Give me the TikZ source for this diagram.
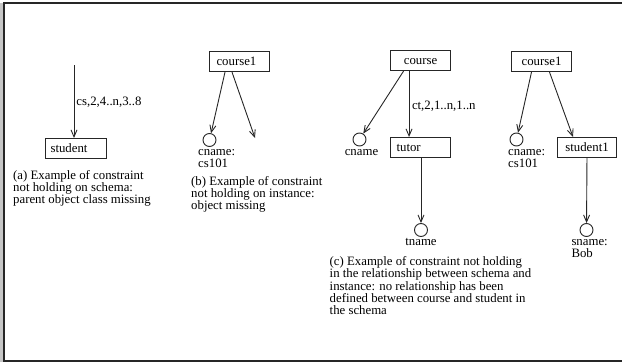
\documentclass[tikz,border=0pt]{standalone}
\usepackage{fontspec}
\setmainfont{Liberation Serif}
\usetikzlibrary{arrows.meta}
\newcommand\figfont{\fontsize{12.8pt}{12.2pt}\selectfont}
\tikzset{
 frame/.style={line width=1.4pt, draw=black!85},
 box/.style={draw=black!85, line width=1.1pt, minimum height=20pt, inner sep=0pt, text height=8.6pt, text depth=0pt, font=\figfont, anchor=north west},
 val/.style={draw=black!85, line width=0.9pt, circle, minimum size=13pt, inner sep=0pt},
 arr/.style={draw=black!85, line width=0.9pt, -{Straight Barb[length=7pt,width=6pt]}},
 txt/.style={font=\figfont, inner sep=0pt, anchor=base west},
}
\begin{document}
\begin{tikzpicture}[x=1pt,y=-1pt]
\useasboundingbox (0,0) rectangle (622,364);
\draw[gray!45, line width=2.5pt] (1.5,3) -- (1.5,362);
\draw[frame] (623,3) -- (4,3) -- (4,361) -- (623,361);

% (a)
\node[box, inner xsep=5pt, text width=51pt, align=left] (student) at (45,138) {student};
\coordinate (atop) at (74,65);
\draw[arr] (atop) -- node[txt, pos=0.56, xshift=2pt] (lba) {cs,2,4..n,3..8} (atop |- student.north);
\node[txt] (capa) at (13,179) {\parbox[t]{170pt}{\raggedright (a) Example of constraint\\not holding on schema:\\parent object class missing}};

% (b)
\node[box, inner xsep=7pt, text width=46pt, align=left] (cb) at (209,51) {course1};
\node[val] (cnb) at (209.5,140) {};
\coordinate (bmiss) at (255,138);
\draw[arr] ([xshift=16pt]cb.south west) -- (cnb);
\draw[arr] ([xshift=23pt]cb.south west) -- (bmiss);
\node[txt] (cnbl) at (198,155.5) {\parbox[t]{50pt}{\raggedright cname:\\cs101}};
\node[txt] (capb) at (191,185) {\parbox[t]{170pt}{\raggedright (b) Example of constraint\\not holding on instance:\\object missing}};

% (c)
\node[box, minimum width=60pt] (cc) at (390,50) {course};
\node[val] (cnc) at (359.5,139.5) {};
\node[txt, anchor=base] (cncl) at (361.5,155) {cname};
\node[box, inner xsep=6pt, text width=48pt, align=left] (tutor) at (390,137) {tutor};
\draw[arr] ([xshift=-17pt]cc.south) -- (cnc);
\draw[arr] ([xshift=-11.5pt]cc.south) -- node[txt, pos=0.59, xshift=2.5pt] (lbc) {ct,2,1..n,1..n} ([xshift=-11.5pt]tutor.north);
\node[val] (tn) at (421,230) {};
\draw[arr] (tn |- tutor.south) -- (tn);
\node[txt, anchor=base] (tnl) at (421,245) {tname};
\node[txt] (capc) at (329.5,265.7) {\parbox[t]{260pt}{\raggedright (c) Example of constraint not holding\\in the relationship between schema and\\instance: no relationship has been\\defined between course and student in\\the schema}};

% (d)
\node[box, minimum width=60pt] (cd) at (511,51) {course1};
\node[val] (cnd) at (516.5,139.5) {};
\node[box, minimum width=59pt] (s1) at (557,137) {student1};
\draw[arr] ([xshift=20.5pt]cd.south west) -- (cnd);
\draw[arr] ([xshift=38.5pt]cd.south west) -- ([xshift=16pt]s1.north west);
\node[val] (sn) at (586.5,230) {};
\draw[arr] (s1) -- (sn);
\node[txt] (cndl) at (508,155.5) {\parbox[t]{50pt}{\raggedright cname:\\cs101}};
\node[txt] (snl) at (571.3,245.5) {\parbox[t]{50pt}{\raggedright sname:\\Bob}};
\end{tikzpicture}
\end{document}
